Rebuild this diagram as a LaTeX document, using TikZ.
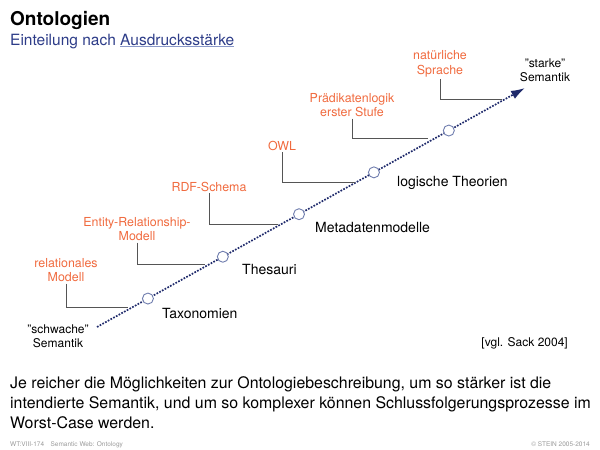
\documentclass[tikz,border=0pt]{standalone}
\usepackage{fontspec}
\setmainfont{TeX Gyre Heros}
\usetikzlibrary{arrows.meta}
\definecolor{navyline}{HTML}{1F2A6B}
\definecolor{subblue}{HTML}{2D3C88}
\definecolor{ulblue}{HTML}{8A98C8}
\definecolor{ringblue}{HTML}{6F7DAE}
\definecolor{langorange}{HTML}{F06A3E}
\definecolor{elbowgray}{HTML}{555555}
\definecolor{footgray}{HTML}{9A9A9A}

\begin{document}
\begin{tikzpicture}[x=1pt,y=-1pt,
stage/.style={circle,draw=ringblue,fill=white,line width=0.9pt,solid,
  minimum size=11pt,inner sep=0pt},
kind/.style={font=\fontsize{14}{16}\selectfont,anchor=west,inner sep=0pt},
lang/.style={text=langorange,font=\fontsize{12.4}{14.5}\selectfont,
  align=center,inner sep=1.5pt},
endlabel/.style={font=\fontsize{12}{14.5}\selectfont,align=center},
elbow/.style={draw=elbowgray,line width=0.8pt},
]
\useasboundingbox (0,0) rectangle (600,450);

\node[anchor=base west,inner sep=0pt,font=\bfseries\fontsize{19}{21}\selectfont]
  (title) at (10,25) {Ontologien};
\node[anchor=base west,inner sep=0pt,text=subblue,font=\fontsize{15.5}{18}\selectfont]
  (subtitle) at (10,45)
  {Einteilung nach {\color{ulblue}\underline{\color{subblue}Ausdrucksstärke}}};

\coordinate (weak) at (97,327);
\coordinate (strong) at (525,88);
\draw[navyline,line width=1.7pt,dash pattern=on 1.7pt off 1.4pt,
  -{Latex[length=14pt,width=9pt]}]
  (weak) -- (strong)
  node[stage,pos=0.119] (tax) {}
  node[stage,pos=0.294] (the) {}
  node[stage,pos=0.472] (meta) {}
  node[stage,pos=0.647] (logic) {}
  node[stage,pos=0.822] (nat) {};

\node[kind] (taxl) at (162,313) {Taxonomien};
\node[kind] (thel) at (242,269) {Thesauri};
\node[kind] (metal) at (315,227) {Metadatenmodelle};
\node[kind] (logicl) at (397,183) {logische Theorien};

\node[endlabel] (weakl) at (58,336) {"schwache"\\Semantik};
\node[endlabel] (strongl) at (545,70) {"starke"\\Semantik};

\node[lang] (rel) at (66,270) {relationales\\Modell};
\node[lang] (er) at (137,229) {Entity-Relationship-\\Modell};
\node[lang] (rdf) at (209,187) {RDF-Schema};
\node[lang] (owl) at (282,146) {OWL};
\node[lang] (pl) at (352,105) {Prädikatenlogik\\erster Stufe};
\node[lang] (nl) at (440,64) {natürliche\\Sprache};

\coordinate (relj) at (128,307);
\coordinate (erj) at (205,264);
\coordinate (rdfj) at (278,224);
\coordinate (owlj) at (355,182);
\coordinate (plj) at (428,138);
\coordinate (nlj) at (502,99);
\draw[elbow] (rel.south) |- (relj);
\draw[elbow] (er.south) |- (erj);
\draw[elbow] (rdf.south) |- (rdfj);
\draw[elbow] (owl.south) |- (owlj);
\draw[elbow] (pl.south) |- (plj);
\draw[elbow] (nl.south) |- (nlj);

\node[anchor=base east,inner sep=0pt,font=\fontsize{12}{14}\selectfont]
  (cite) at (568,346) {[vgl. Sack 2004]};

\node[anchor=base west,inner sep=0pt,align=left,
  font=\fontsize{15.9}{20}\selectfont] (summary) at (10,428)
  {Je reicher die Möglichkeiten zur Ontologiebeschreibung, um so stärker ist die\\
   intendierte Semantik, und um so komplexer können Schlussfolgerungsprozesse im\\
   Worst-Case werden.};

\node[anchor=base west,inner sep=0pt,text=footgray,font=\fontsize{6.5}{8}\selectfont]
  (footl) at (10,446) {WT:VIII-174\quad Semantic Web: Ontology};
\node[anchor=base east,inner sep=0pt,text=footgray,font=\fontsize{6.5}{8}\selectfont]
  (footr) at (590,446) {© STEIN 2005-2014};
\end{tikzpicture}
\end{document}
